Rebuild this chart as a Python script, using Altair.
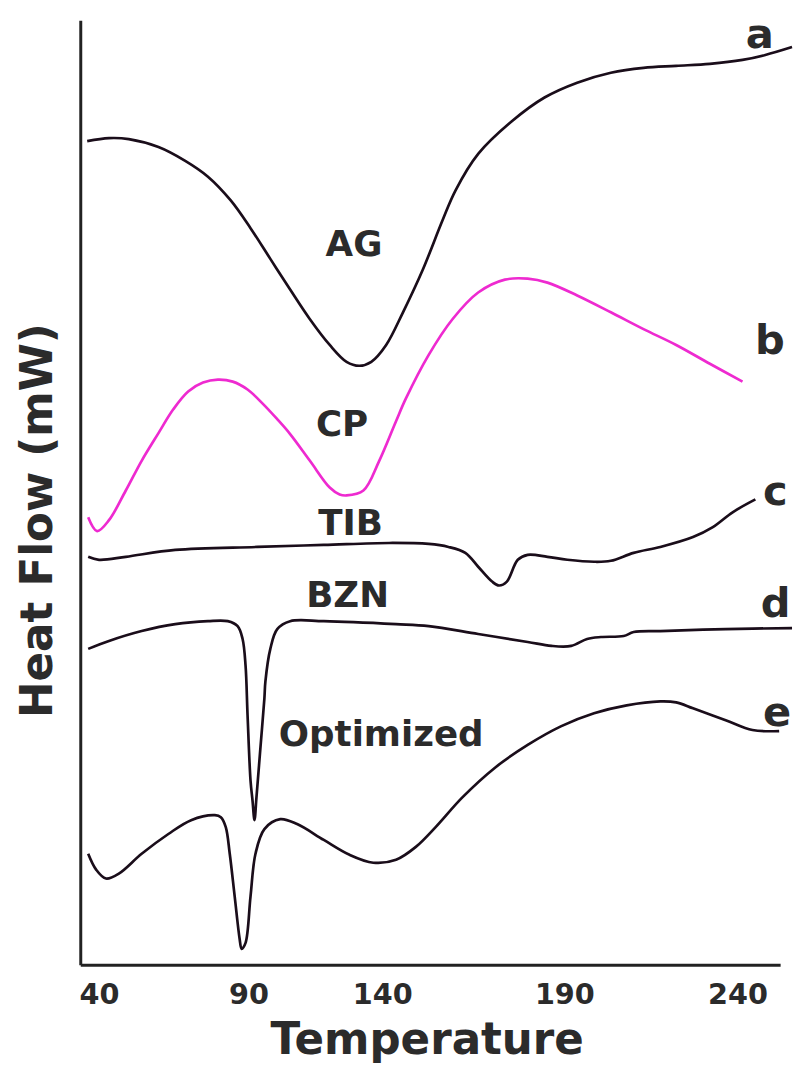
import altair as alt
import pandas as pd

# Temperature axis (piecewise, as drawn in the original figure)
axis_ticks = [40, 90, 140, 190, 240]
x_domain = [33.71, 40, 90, 140, 190, 240, 252.28]
x_range = [0, 19, 170, 305, 489, 664, 707]

# a: AG
a_T = [36.03, 43.31, 49.93, 59.87, 68.81, 76.42, 84.04, 90.74, 98.15, 105.56, 112.96,
       120.37, 126.67, 131.48, 135.93, 141.09, 145.71, 151.14, 156.57, 160.11,
       166.35, 175.59, 184.56, 193.71, 203.43, 212.86, 222.28, 232.0, 241.43, 248.0, 255.71]
a_HF = [832, 835, 834, 826, 812, 796, 772, 744, 713, 682, 652,
        626, 609, 605, 609, 626, 659, 702, 752, 782,
        819, 852, 876, 891, 901, 906, 908, 910, 914, 919, 927]

# b: CP
b_T = [36.36, 39.34, 43.31, 48.94, 54.24, 59.87, 64.83, 69.80, 74.77, 79.73, 84.70,
       89.67, 95.19, 100.74, 105.56, 112.96, 120.37, 124.08, 126.67, 132.97, 138.89,
       143.80, 146.52, 152.77, 159.29, 166.35, 173.69, 179.94, 185.37, 193.71, 203.43,
       212.86, 222.28, 232.0, 241.43]
b_HF = [452, 438, 449, 479, 509, 537, 561, 579, 588, 591, 589,
        581, 567, 551, 536, 509, 482, 475, 474, 479, 509,
        549, 572, 616, 652, 679, 692, 693, 689, 676, 659,
        642, 626, 607, 589]

# c: TIB
c_T = [36.36, 40.0, 48.94, 65.49, 93.33, 118.15, 141.90, 152.77, 158.20, 162.82, 166.35,
       170.16, 172.06, 174.23, 177.22, 179.94, 185.37, 190.86, 198.57, 203.43, 210.0,
       217.71, 227.14, 232.86, 238.57, 245.14]
c_HF = [412, 409, 412, 419, 422, 424, 426, 425, 422, 416, 402,
        387, 383, 387, 409, 414, 412, 409, 407, 408, 416,
        422, 432, 442, 457, 470]

# d: BZN
d_T = [36.36, 43.31, 54.24, 65.49, 76.42, 83.04, 86.35, 88.01, 89.0, 89.67, 90.74,
       91.48, 92.22, 92.96, 94.44, 95.93, 96.30, 98.15, 100.74, 105.56, 118.15,
       143.80, 152.77, 166.35, 179.94, 186.46, 192.0, 196.57, 200.57, 207.14, 210.0,
       217.71, 236.57, 255.71]
d_HF = [319, 327, 337, 344, 347, 347, 342, 329, 302, 252, 186,
        166, 146, 169, 219, 269, 286, 319, 339, 347, 347,
        344, 342, 334, 326, 322, 322, 329, 331, 332, 336,
        337, 339, 340]

# e: Optimized
e_T = [36.36, 39.01, 42.32, 46.62, 54.24, 63.18, 70.79, 78.74, 80.73, 82.38, 83.71,
       85.36, 87.02, 87.68, 89.0, 90.74, 92.59, 95.93, 101.85, 108.15, 118.15,
       127.78, 136.67, 143.80, 149.24, 154.67, 162.01, 170.97, 179.94, 189.18, 198.57,
       208.0, 217.71, 222.28, 227.14, 236.57, 244.29, 252.0]
e_HF = [112, 96, 87, 92, 112, 132, 146, 151, 149, 139, 112,
        69, 26, 16, 22, 69, 112, 137, 147, 142, 126,
        111, 103, 106, 119, 139, 169, 199, 222, 241, 254,
        262, 266, 265, 259, 247, 237, 236]

series_names = ["a", "b", "c", "d", "e"]
series_colors = ["#1a0d1a", "#ee2ad0", "#1a0d1a", "#1a0d1a", "#1a0d1a"]

# annotations
ann_text = ["AG", "CP", "TIB", "BZN", "Optimized"]
ann_T = [129.45, 125.0, 128.15, 127.04, 139.63]
ann_HF = [716, 534, 434, 361, 221]

letter_text = ["a", "b", "c", "d", "e"]
letter_T = [246.43, 249.29, 250.86, 251.0, 251.43]
letter_HF = [926, 617, 464, 351, 241]

rows = []
for name, T, HF in zip(series_names, [a_T, b_T, c_T, d_T, e_T], [a_HF, b_HF, c_HF, d_HF, e_HF]):
    for t, h in zip(T, HF):
        rows.append({"series": name, "T": t, "HF": h})
df = pd.DataFrame(rows)

ann_df = pd.DataFrame({"label": ann_text, "T": ann_T, "HF": ann_HF})
let_df = pd.DataFrame({"label": letter_text, "T": letter_T, "HF": letter_HF})

FONT = "DejaVu Sans"
TXT = "#2b2b2b"

x_enc = alt.X("T:Q", scale=alt.Scale(domain=x_domain, range=x_range, nice=False, zero=False),
              axis=alt.Axis(values=axis_ticks, ticks=False, grid=False, title="Temperature",
                            labelFont=FONT, labelFontSize=29, labelFontWeight="bold", labelColor=TXT,
                            labelPadding=16, labelFlush=False,
                            titleFont=FONT, titleFontSize=44, titleFontWeight="bold", titleColor=TXT,
                            titleX=350, titleY=90, titleBaseline="alphabetic",
                            domainColor="#222222", domainWidth=3))
y_enc = alt.Y("HF:Q", scale=alt.Scale(domain=[0, 954], nice=False, zero=False),
              axis=alt.Axis(ticks=False, labels=False, grid=False, title="Heat Flow (mW)",
                            titleFont=FONT, titleFontSize=44, titleFontWeight="bold", titleColor=TXT,
                            titleX=-29, titleY=505, titleAngle=-90, titleBaseline="alphabetic",
                            titleAlign="center",
                            domainColor="#222222", domainWidth=3))

lines = alt.Chart(df).mark_line(strokeWidth=2.7, interpolate="catmull-rom").encode(
    x=x_enc, y=y_enc,
    color=alt.Color("series:N", scale=alt.Scale(domain=series_names, range=series_colors), legend=None),
)

ann = alt.Chart(ann_df).mark_text(font=FONT, fontSize=36, fontWeight="bold", color=TXT,
                                  align="center", baseline="alphabetic").encode(
    x="T:Q", y="HF:Q", text="label:N")

lets = alt.Chart(let_df).mark_text(font=FONT, fontSize=42, fontWeight="bold", color=TXT,
                                   align="center", baseline="alphabetic").encode(
    x="T:Q", y="HF:Q", text="label:N")

chart = alt.layer(lines, ann, lets).properties(
    width=707, height=954,
    padding={"left": 73, "top": 7, "right": 13, "bottom": 102},
    autosize=alt.AutoSizeParams(type="none"),
    background="white",
).configure_view(stroke=None)

chart.save("out.html", embed_options={"renderer": "svg", "actions": False})
